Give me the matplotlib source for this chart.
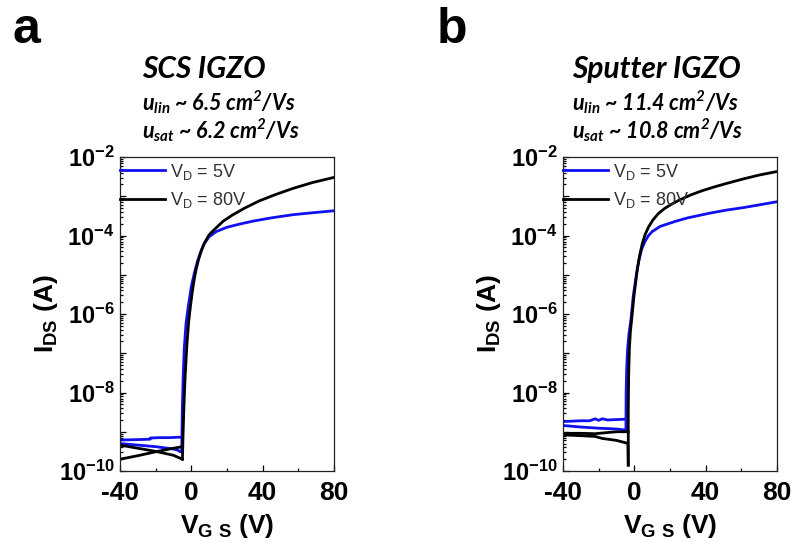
import numpy as np
import matplotlib.pyplot as plt
from matplotlib.ticker import LogLocator, FuncFormatter, MultipleLocator, NullFormatter

# gate voltage (V) and log10 of drain current (A)

# panel a, SCS IGZO
a_lin_on_vg = [-5.4, -5.0, -4.5, -4.0, -3.0, -2.0, -1.0, 0.0, 1.0, 2.0, 3.5, 5.0, 7.0,
               10, 14, 20, 27, 35, 45, 57, 68, 80]
a_lin_on_logi = [-9.5, -8.3, -7.5, -6.9, -6.25, -5.9, -5.6, -5.3, -5.1, -4.9, -4.65, -4.45,
                 -4.22, -4.03, -3.9, -3.79, -3.71, -3.63, -3.55, -3.47, -3.42, -3.37]
a_lin_off1_vg = [-40, -30, -20, -10, -7.5, -6.2, -5.4]
a_lin_off1_logi = [-9.30, -9.34, -9.38, -9.44, -9.47, -9.51, -9.5]
a_lin_off2_vg = [-5.3, -7.5, -12, -18, -23, -23.1, -30, -40]
a_lin_off2_logi = [-9.14, -9.14, -9.15, -9.15, -9.16, -9.19, -9.20, -9.21]

a_sat_on_vg = [-5.0, -4.6, -4.1, -3.5, -2.5, -1.5, -0.5, 0.5, 1.5, 2.5, 4, 5.5, 7.5, 10,
               14, 18, 23, 30, 38, 47, 57, 68, 80]
a_sat_on_logi = [-9.70, -9.0, -8.3, -7.6, -6.8, -6.2, -5.8, -5.45, -5.15, -4.9, -4.62, -4.4,
                 -4.18, -3.98, -3.8, -3.63, -3.48, -3.3, -3.12, -2.96, -2.8, -2.65, -2.52]
a_sat_off1_vg = [-40, -30, -20, -10, -5.0]
a_sat_off1_logi = [-9.34, -9.42, -9.50, -9.60, -9.70]
a_sat_off2_vg = [-4.9, -10, -20, -30, -40]
a_sat_off2_logi = [-9.38, -9.42, -9.51, -9.61, -9.70]

# panel b, sputter IGZO
b_lin_on_vg = [-4.7, -4.6, -4.3, -3.8, -3.0, -1.9, -0.6, 0.5, 1.3, 2.5, 4.1, 6, 7.8, 10,
               14.4, 19, 23.7, 30, 42.4, 52, 61.1, 70, 80]
b_lin_on_logi = [-8.9, -8.0, -7.4, -6.9, -6.5, -6.14, -5.54, -5.2, -4.95, -4.65, -4.35, -4.15,
                 -4.01, -3.9, -3.77, -3.7, -3.63, -3.55, -3.43, -3.35, -3.29, -3.22, -3.14]
b_lin_off1_vg = [-40, -35, -30, -20, -10, -6, -4.7]
b_lin_off1_logi = [-8.84, -8.86, -8.88, -8.91, -8.93, -8.95, -8.95]
b_lin_off2_vg = [-4.7, -10, -15, -18, -20, -22, -25, -30, -35, -40]
b_lin_off2_logi = [-8.68, -8.69, -8.70, -8.67, -8.71, -8.67, -8.72, -8.72, -8.73, -8.74]

b_sat_on_vg = [-3.4, -3.4, -3.2, -2.8, -2.2, -1.5, -0.2, 1.7, 3.0, 4.5, 6.0, 8.0, 10.5, 13.5,
               17, 21, 26, 32, 38, 45, 52, 61, 70, 80]
b_sat_on_logi = [-9.85, -8.5, -7.6, -6.9, -6.45, -6.14, -5.54, -4.85, -4.5, -4.2, -3.98,
                 -3.78, -3.6, -3.44, -3.31, -3.2, -3.08, -2.96, -2.86, -2.76, -2.67, -2.56,
                 -2.46, -2.37]
b_sat_off1_vg = [-40, -30, -22, -18, -10, -5, -3.6, -3.4]
b_sat_off1_logi = [-9.08, -9.10, -9.12, -9.17, -9.22, -9.28, -9.30, -9.85]
b_sat_off2_vg = [-3.5, -10, -15, -22, -30, -40]
b_sat_off2_logi = [-9.0, -9.0, -9.02, -9.05, -9.04, -9.04]

titles = ['SCS IGZO', 'Sputter IGZO']
mu_lin = ['6.5', '11.4']
mu_sat = ['6.2', '10.8']
panel_tags = ['a', 'b']

plt.rcParams['font.family'] = ['Liberation Sans', 'DejaVu Sans']
plt.rcParams['axes.unicode_minus'] = False

BLUE = '#1010f0'


def log_label(val, pos):
    e = int(round(np.log10(val)))
    if e % 2:
        return ''
    return r'$\mathregular{10^{%d}}$' % e


def draw_panel(ax, lin, sat):
    # lin / sat: list of (vg, logi) pairs, first one is the on branch
    for k, (vg, li) in enumerate(lin):
        ax.plot(vg, 10.0 ** np.array(li), color=BLUE, lw=2,
                label=r'V$\mathregular{_D}$ = 5V' if k == 0 else None)
    for k, (vg, li) in enumerate(sat):
        ax.plot(vg, 10.0 ** np.array(li), color='black', lw=2,
                label=r'V$\mathregular{_D}$ = 80V' if k == 0 else None)

    ax.set_yscale('log')
    ax.set_xlim(-40, 80)
    ax.set_ylim(1e-10, 1e-2)
    ax.set_xticks([-40, 0, 40, 80])
    ax.xaxis.set_minor_locator(MultipleLocator(20))
    ax.yaxis.set_major_locator(LogLocator(base=10, numticks=20))
    ax.yaxis.set_minor_locator(LogLocator(base=10, subs=np.arange(2, 10), numticks=20))
    ax.yaxis.set_major_formatter(FuncFormatter(log_label))
    ax.yaxis.set_minor_formatter(NullFormatter())

    ax.tick_params(which='both', direction='in', top=False, right=False, width=0.9)
    ax.tick_params(which='major', length=4)
    ax.tick_params(which='minor', length=2)
    ax.tick_params(axis='x', labelsize=19, pad=7)
    ax.tick_params(axis='y', labelsize=17, pad=4)
    for lab in ax.get_xticklabels() + ax.get_yticklabels():
        lab.set_fontweight('bold')
    for sp in ax.spines.values():
        sp.set_linewidth(0.9)
        sp.set_color('#222222')

    ax.set_xlabel(r'V$\mathregular{_{G\ S}}$ (V)', fontsize=19, fontweight='bold')
    ax.xaxis.set_label_coords(0.5, -0.13)
    ax.set_ylabel(r'I$\mathregular{_{DS}}$ (A)', fontsize=19, fontweight='bold')
    ax.yaxis.set_label_coords(-0.28, 0.5)

    leg = ax.legend(loc='upper left', bbox_to_anchor=(0, 0.985), frameon=False,
                    borderaxespad=0, borderpad=0, handlelength=2.5, handletextpad=0.25,
                    labelspacing=0.45, fontsize=13)
    for t in leg.get_texts():
        t.set_color('#333333')


fig = plt.figure(figsize=(7.96, 5.42), dpi=100)
ax_a = fig.add_axes([120 / 796, 71 / 542, 214 / 796, 314 / 542])
ax_b = fig.add_axes([563 / 796, 71 / 542, 214 / 796, 314 / 542])

draw_panel(ax_a,
           [(a_lin_on_vg, a_lin_on_logi), (a_lin_off1_vg, a_lin_off1_logi),
            (a_lin_off2_vg, a_lin_off2_logi)],
           [(a_sat_on_vg, a_sat_on_logi), (a_sat_off1_vg, a_sat_off1_logi),
            (a_sat_off2_vg, a_sat_off2_logi)])
draw_panel(ax_b,
           [(b_lin_on_vg, b_lin_on_logi), (b_lin_off1_vg, b_lin_off1_logi),
            (b_lin_off2_vg, b_lin_off2_logi)],
           [(b_sat_on_vg, b_sat_on_logi), (b_sat_off1_vg, b_sat_off1_logi),
            (b_sat_off2_vg, b_sat_off2_logi)])

# panel letters and headers
tag_x = [12 / 796, 437 / 796]
head_x = [142 / 796, 572 / 796]
head_font = dict(family=['Lato', 'DejaVu Sans'], style='italic', weight='bold')
for i in range(2):
    fig.text(tag_x[i], 1 - 43 / 542, panel_tags[i], fontsize=36, fontweight='bold',
             va='baseline')
    fig.text(head_x[i], 1 - 78 / 542, titles[i], fontsize=21.5, va='baseline', **head_font)
    fig.text(head_x[i], 1 - 110 / 542,
             r'$\mathregular{u_{lin}}$ ~ ' + mu_lin[i] + r' cm$\mathregular{^2}$/Vs',
             fontsize=15.5, va='baseline', **head_font)
    fig.text(head_x[i], 1 - 138 / 542,
             r'$\mathregular{u_{sat}}$ ~ ' + mu_sat[i] + r' cm$\mathregular{^2}$/Vs',
             fontsize=15.5, va='baseline', **head_font)

fig.savefig('out.png', dpi=100)
